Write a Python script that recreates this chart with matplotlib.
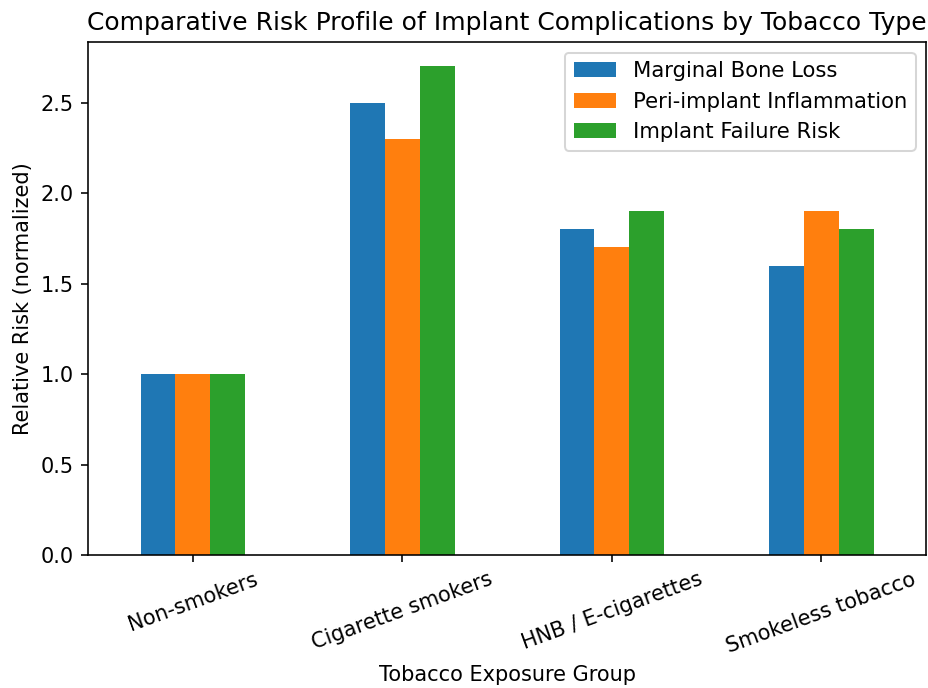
import matplotlib
matplotlib.use("Agg")
import matplotlib.pyplot as plt
import numpy as np

groups = ["Non-smokers", "Cigarette smokers", "HNB / E-cigarettes", "Smokeless tobacco"]
series_names = ["Marginal Bone Loss", "Peri-implant Inflammation", "Implant Failure Risk"]
marginal_bone_loss = [1.0, 2.5, 1.8, 1.6]
peri_implant_inflammation = [1.0, 2.3, 1.7, 1.9]
implant_failure_risk = [1.0, 2.7, 1.9, 1.8]
colors = ["#1f77b4", "#ff7f0e", "#2ca02c"]

plt.rcParams["font.size"] = 10.35

dpi = 145
fig = plt.figure(figsize=(928 / dpi, 688 / dpi), dpi=dpi)
ax = fig.add_axes([0.095, 0.193, 0.903, 0.746])

values = [marginal_bone_loss, peri_implant_inflammation, implant_failure_risk]
x = np.arange(len(groups))
w = 0.5 / 3
for i, (name, vals) in enumerate(zip(series_names, values)):
    ax.bar(x + (i - 1) * w, vals, width=w, color=colors[i], label=name)

ax.set_xlim(-0.5, len(groups) - 0.5)
ax.set_ylim(0, 2.835)
ax.set_xticks(x)
ax.set_xticklabels(groups, rotation=20)
ax.set_yticks([0.0, 0.5, 1.0, 1.5, 2.0, 2.5])
ax.set_xlabel("Tobacco Exposure Group")
ax.set_ylabel("Relative Risk (normalized)")
ax.set_title("Comparative Risk Profile of Implant Complications by Tobacco Type", fontsize=12.4)
ax.legend(loc="upper right", fontsize=10.5)

fig.savefig("out.png", dpi=dpi)
